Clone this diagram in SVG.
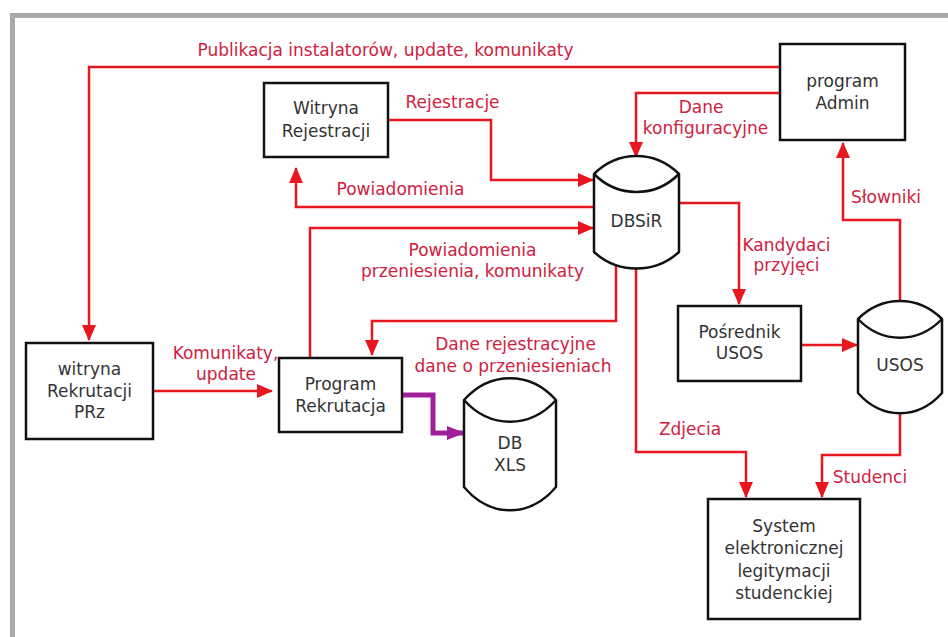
<svg xmlns="http://www.w3.org/2000/svg" width="948" height="637" viewBox="0 0 948 637">
<style>
text{font-family:"DejaVu Sans","Verdana",sans-serif;font-size:17px;text-anchor:middle}
.n{fill:#333}
.l{fill:#CF2140}
.box{fill:#fff;stroke:#111;stroke-width:2.5}
.cyl{fill:#fff;stroke:#111;stroke-width:2.5;stroke-linejoin:round}
.c{fill:none;stroke:#E8161E;stroke-width:2.5}
.p{fill:none;stroke:#A0209A;stroke-width:5}
</style>
<defs>
<marker id="ar" markerUnits="userSpaceOnUse" markerWidth="16" markerHeight="14" viewBox="0 0 16 14" refX="15" refY="7" orient="auto"><path d="M0,0 L16,7 L0,14 z" fill="#E8161E"/></marker>
<marker id="ap" markerUnits="userSpaceOnUse" markerWidth="18" markerHeight="14" viewBox="0 0 18 14" refX="17" refY="7" orient="auto"><path d="M0,0 L18,7 L0,14 z" fill="#A0209A"/></marker>
</defs>
<rect x="0" y="0" width="948" height="637" fill="#fff"/>
<g id="frame">
<rect x="10" y="13" width="938" height="5" fill="#A7A9AC"/>
<rect x="10" y="13" width="5" height="624" fill="#A7A9AC"/>
</g>
<g id="connectors">
<path class="c" d="M780,67 H89 V340" marker-end="url(#ar)"/>
<path class="c" d="M388,120 H491 V180 H593" marker-end="url(#ar)"/>
<path class="c" d="M594,207 H296 V168" marker-end="url(#ar)"/>
<path class="c" d="M780,93 H636 V157" marker-end="url(#ar)"/>
<path class="c" d="M310,358 V228 H593" marker-end="url(#ar)"/>
<path class="c" d="M616,266 V321 H372 V355" marker-end="url(#ar)"/>
<path class="c" d="M679,203 H739 V304" marker-end="url(#ar)"/>
<path class="c" d="M900,301 V220 H843 V143" marker-end="url(#ar)"/>
<path class="c" d="M801,345 H857" marker-end="url(#ar)"/>
<path class="c" d="M636,268 V452 H746 V497" marker-end="url(#ar)"/>
<path class="c" d="M900,413 V455 H822 V497" marker-end="url(#ar)"/>
<path class="c" d="M153,391 H272" marker-end="url(#ar)"/>
<path class="p" d="M402,395 H433 V433 H464" marker-end="url(#ap)"/>
</g>
<g id="labels">
<text class="l" x="385.5" y="56">Publikacja instalatorów, update, komunikaty</text>
<text class="l" x="452.5" y="108">Rejestracje</text>
<text class="l" x="400.5" y="195">Powiadomienia</text>
<text class="l" x="701" y="113">Dane</text>
<text class="l" x="705.5" y="134">konfiguracyjne</text>
<text class="l" x="886" y="203">Słowniki</text>
<text class="l" x="472.5" y="256">Powiadomienia</text>
<text class="l" x="472.5" y="277">przeniesienia, komunikaty</text>
<text class="l" x="786.5" y="251">Kandydaci</text>
<text class="l" x="786.5" y="271">przyjęci</text>
<text class="l" x="225.5" y="359">Komunikaty,</text>
<text class="l" x="226" y="380">update</text>
<text class="l" x="515.5" y="350">Dane rejestracyjne</text>
<text class="l" x="513" y="372">dane o przeniesieniach</text>
<text class="l" x="690" y="435">Zdjecia</text>
<text class="l" x="870" y="483">Studenci</text>
</g>
<g id="witryna-rejestracji">
<rect class="box" x="264" y="83" width="124" height="74"/>
<text class="n" x="326" y="114">Witryna</text>
<text class="n" x="326" y="137">Rejestracji</text>
</g>
<g id="program-admin">
<rect class="box" x="780" y="44" width="125" height="96"/>
<text class="n" x="842.5" y="87">program</text>
<text class="n" x="842.5" y="109">Admin</text>
</g>
<g id="witryna-rekrutacji">
<rect class="box" x="26" y="343" width="127" height="96"/>
<text class="n" x="89.5" y="375">witryna</text>
<text class="n" x="89.5" y="397">Rekrutacji</text>
<text class="n" x="89.5" y="418">PRz</text>
</g>
<g id="program-rekrutacja">
<rect class="box" x="279" y="358" width="123" height="74"/>
<text class="n" x="340.5" y="390">Program</text>
<text class="n" x="340.5" y="412">Rekrutacja</text>
</g>
<g id="posrednik-usos">
<rect class="box" x="678" y="306" width="123" height="75"/>
<text class="n" x="739.5" y="338">Pośrednik</text>
<text class="n" x="739.5" y="359">USOS</text>
</g>
<g id="system-legitymacji">
<rect class="box" x="708" y="499" width="152" height="120"/>
<text class="n" x="784" y="532">System</text>
<text class="n" x="784" y="554">elektronicznej</text>
<text class="n" x="784" y="577">legitymacji</text>
<text class="n" x="784" y="599">studenckiej</text>
</g>
<g id="dbsir">
<path class="cyl" d="M594,174 C618,150 655,150 679,174 V252 C655,274 618,274 594,252 Z"/>
<path class="cyl" fill="none" d="M594,174 C618,198 655,198 679,174"/>
<text class="n" x="636.5" y="227">DBSiR</text>
</g>
<g id="usos">
<path class="cyl" d="M858,319 C882,295 918,295 942,319 V393 C918,420 882,420 858,393 Z"/>
<path class="cyl" fill="none" d="M858,319 C882,344 918,344 942,319"/>
<text class="n" x="900" y="371">USOS</text>
</g>
<g id="db-xls">
<path class="cyl" d="M464,400 C490,371 530,371 556,400 V487 C530,518 490,518 464,487 Z"/>
<path class="cyl" fill="none" d="M464,400 C490,429 530,429 556,400"/>
<text class="n" x="510" y="449">DB</text>
<text class="n" x="510" y="471">XLS</text>
</g>
</svg>
